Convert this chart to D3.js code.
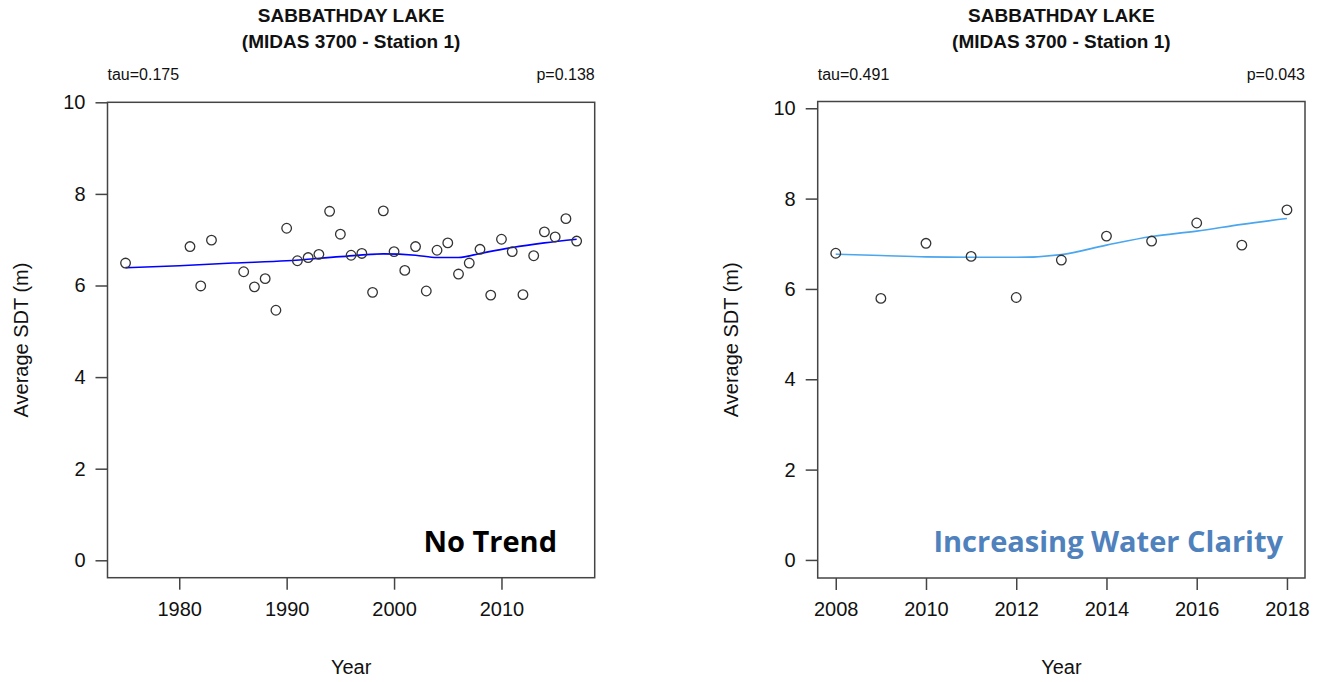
<!DOCTYPE html>
<html>
<head>
<meta charset="utf-8">
<script src="https://cdn.jsdelivr.net/npm/d3@7"></script>
<style>
  body { margin: 0; background: #fff; }
  svg { display: block; }
  text { font-family: "Liberation Sans", Arial, sans-serif; fill: #111; }
</style>
</head>
<body>
<svg></svg>
<script>
var width = 1323,
    height = 682;

// observed Secchi depth (m), one value per year
var yearsLong = [1975, 1981, 1982, 1983, 1986, 1987, 1988, 1989, 1990, 1991, 1992, 1993, 1994, 1995, 1996, 1997, 1998, 1999,
                 2000, 2001, 2002, 2003, 2004, 2005, 2006, 2007, 2008, 2009, 2010, 2011, 2012, 2013, 2014, 2015, 2016, 2017];
var sdtLong = [6.49, 6.85, 5.99, 6.99, 6.30, 5.97, 6.15, 5.46, 7.25, 6.54, 6.61, 6.68, 7.62, 7.12, 6.66, 6.70, 5.85, 7.63,
               6.74, 6.33, 6.85, 5.88, 6.77, 6.93, 6.25, 6.49, 6.79, 5.79, 7.01, 6.74, 5.80, 6.65, 7.17, 7.06, 7.46, 6.97];

// smoothed (loess) curve
var smoothYearsLong = [1975, 1980, 1985, 1990, 1995, 1999, 2002, 2004, 2006, 2008, 2011, 2014, 2017];
var smoothLong = [6.39, 6.43, 6.49, 6.54, 6.63, 6.69, 6.66, 6.61, 6.61, 6.70, 6.83, 6.93, 7.01];

var yearsShort = [2008, 2009, 2010, 2011, 2012, 2013, 2014, 2015, 2016, 2017, 2018];
var sdtShort = [6.79, 5.79, 7.01, 6.72, 5.81, 6.64, 7.17, 7.06, 7.46, 6.97, 7.75];
var smoothShort = [6.77, 6.74, 6.71, 6.70, 6.70, 6.76, 6.97, 7.16, 7.28, 7.43, 7.56];

var xTicksLong = [1980, 1990, 2000, 2010];
var xTicksShort = [2008, 2010, 2012, 2014, 2016, 2018];
var yTicks = [0, 2, 4, 6, 8, 10];

var titleLines = ["SABBATHDAY LAKE", "(MIDAS 3700 - Station 1)"];

var panels = [
  { x0: 107.5, x1: 594.7, xdom: [1973.32, 2018.68], y0: 577.7, y1: 102.3, ydom: [-0.38, 10],
    years: yearsLong, vals: sdtLong, sYears: smoothYearsLong, sVals: smoothLong, ticks: xTicksLong,
    lineColor: "#0000ff", tau: "tau=0.175", p: "p=0.138",
    note: "No Trend", noteColor: "#000000", noteRight: 557 },
  { x0: 817.7, x1: 1305, xdom: [2007.6, 2018.4], y0: 578, y1: 101.5, ydom: [-0.4, 10.15],
    years: yearsShort, vals: sdtShort, sYears: yearsShort, sVals: smoothShort, ticks: xTicksShort,
    lineColor: "#4aa6ee", tau: "tau=0.491", p: "p=0.043",
    note: "Increasing Water Clarity", noteColor: "#4f81bd", noteRight: 1283 }
];

var svg = d3.select("svg")
    .attr("width", width)
    .attr("height", height);

panels.forEach(function (pn) {
  var x = d3.scaleLinear().domain(pn.xdom).range([pn.x0, pn.x1]);
  var y = d3.scaleLinear().domain(pn.ydom).range([pn.y0, pn.y1]);
  var cx = (pn.x0 + pn.x1) / 2;
  var g = svg.append("g");

  // titles
  g.selectAll("text.title")
    .data(titleLines)
    .enter().append("text")
    .attr("class", "title")
    .attr("x", cx)
    .attr("y", (d, i) => 22 + i * 26)
    .attr("text-anchor", "middle")
    .style("font-size", "19px")
    .style("font-weight", "bold")
    .text(d => d);

  g.append("text").attr("x", pn.x0).attr("y", 80)
    .style("font-size", "16px").text(pn.tau);
  g.append("text").attr("x", pn.x1).attr("y", 80).attr("text-anchor", "end")
    .style("font-size", "16px").text(pn.p);

  // box
  g.append("rect")
    .attr("x", pn.x0).attr("y", pn.y1)
    .attr("width", pn.x1 - pn.x0).attr("height", pn.y0 - pn.y1)
    .attr("fill", "none").attr("stroke", "#444").attr("stroke-width", 1.5);

  // axes
  var xAxis = d3.axisBottom(x).tickValues(pn.ticks).tickFormat(d3.format("d"))
    .tickSize(12).tickPadding(12);
  var gx = g.append("g").attr("transform", "translate(0," + pn.y0 + ")").call(xAxis);
  gx.select(".domain").remove();

  var yAxis = d3.axisLeft(y).tickValues(yTicks).tickSize(12).tickPadding(10);
  var gy = g.append("g").attr("transform", "translate(" + pn.x0 + ",0)").call(yAxis);
  gy.select(".domain").remove();

  g.selectAll(".tick line").attr("stroke", "#444").attr("stroke-width", 1.5);
  g.selectAll(".tick text")
    .style("font-family", "'Liberation Sans', Arial, sans-serif")
    .style("font-size", "20px").attr("fill", "#111");

  // axis titles
  g.append("text")
    .attr("x", cx).attr("y", 674)
    .attr("text-anchor", "middle")
    .style("font-size", "20px")
    .text("Year");
  g.append("text")
    .attr("transform", "translate(" + (pn.x0 - 80) + "," + ((pn.y0 + pn.y1) / 2) + ") rotate(-90)")
    .attr("text-anchor", "middle")
    .style("font-size", "20px")
    .text("Average SDT (m)");

  // smooth
  var line = d3.line()
    .x((d, i) => x(pn.sYears[i]))
    .y(d => y(d))
    .curve(d3.curveMonotoneX);
  g.append("path")
    .attr("d", line(pn.sVals))
    .attr("fill", "none")
    .attr("stroke", pn.lineColor)
    .attr("stroke-width", 1.6);

  // points
  g.selectAll("circle")
    .data(pn.vals)
    .enter().append("circle")
    .attr("cx", (d, i) => x(pn.years[i]))
    .attr("cy", d => y(d))
    .attr("r", 4.8)
    .attr("fill", "none")
    .attr("stroke", "#333")
    .attr("stroke-width", 1.3);

  // annotation
  g.append("text")
    .attr("x", pn.noteRight).attr("y", 552)
    .attr("text-anchor", "end")
    .style("font-family", "'Open Sans', sans-serif")
    .style("font-weight", "bold")
    .style("font-size", "29px")
    .style("fill", pn.noteColor)
    .text(pn.note);
});
</script>
</body>
</html>
